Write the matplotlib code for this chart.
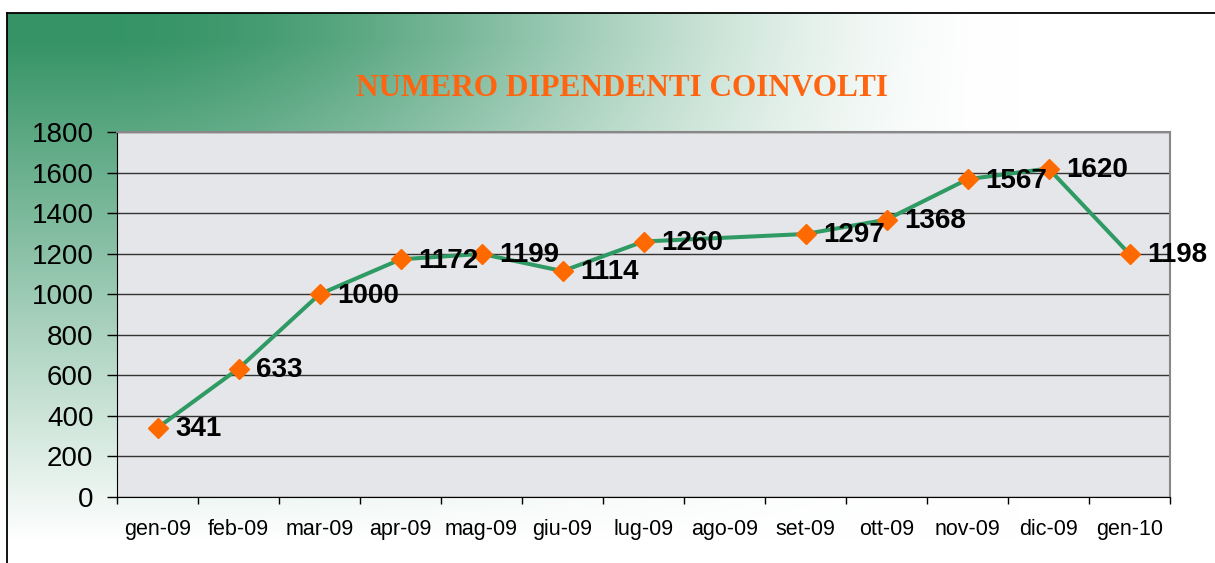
import numpy as np
import matplotlib.pyplot as plt

MONTHS = ["gen-09", "feb-09", "mar-09", "apr-09", "mag-09", "giu-09", "lug-09",
          "ago-09", "set-09", "ott-09", "nov-09", "dic-09", "gen-10"]
DIPENDENTI = [341, 633, 1000, 1172, 1199, 1114, 1260, np.nan,
              1297, 1368, 1567, 1620, 1198]
Y_TICKS = [0, 200, 400, 600, 800, 1000, 1200, 1400, 1600, 1800]
TITLE = "NUMERO DIPENDENTI COINVOLTI"

plt.rcParams["font.family"] = "Liberation Sans"

W, H = 1215, 563
fig = plt.figure(figsize=(W / 100, H / 100), dpi=100)
fig.patch.set_facecolor("white")

# green-to-white slide background inside the frame
fx0, fy0 = 7, 13
bg = fig.add_axes([fx0 / W, 0, 1 - fx0 / W, 1 - fy0 / H])
xx, yy = np.meshgrid(np.arange(W - fx0) + fx0, np.arange(H - fy0) + fy0)
u = np.clip((xx - 100) / 920, 0, 1)
tx = 3 * u ** 2 - 2 * u ** 3
ty = np.clip((yy - 40) / 500, 0, 1)
t = 1 - (1 - tx) * (1 - ty)
green = np.array([0.21, 0.58, 0.40])
img = green[None, None, :] * (1 - t[..., None]) + t[..., None]
bg.imshow(img, aspect="auto", interpolation="bilinear")
bg.set_xticks([])
bg.set_yticks([])
for s in ["right", "bottom"]:
    bg.spines[s].set_visible(False)
bg.spines["left"].set_linewidth(1.3)
bg.spines["top"].set_linewidth(1.3)

fig.text(622 / W, 1 - 88 / H, TITLE, family="Liberation Serif", fontsize=22.5,
         fontweight="bold", color="#ff6410", ha="center", va="center")

ax = fig.add_axes([117 / W, 1 - 497 / H, (1170 - 117) / W, (497 - 132) / H])
ax.set_facecolor("#e5e6e9")

vals = np.array(DIPENDENTI, dtype=float)
xpos = np.arange(len(MONTHS)) + 0.5
ok = ~np.isnan(vals)
ax.plot(xpos[ok], vals[ok], color="#2f9a64", lw=2.9, zorder=3,
        marker="D", ms=10.5, mfc="#ff6a00", mec="#ff6a00")
for x, v in zip(xpos[ok], vals[ok]):
    ax.annotate(f"{int(v)}", (x, v), xytext=(12.5, -1), textcoords="offset points",
                fontsize=20, fontweight="bold", va="center", ha="left", zorder=4)

ax.set_xlim(0, len(MONTHS))
ax.set_ylim(0, 1800)
ax.set_yticks(Y_TICKS)
ax.set_yticklabels([str(v) for v in Y_TICKS], fontsize=20)
ax.set_xticks(np.arange(len(MONTHS) + 1))
ax.set_xticklabels([])
ax.set_xticks(xpos, minor=True)
ax.set_xticklabels(MONTHS, minor=True, fontsize=15.5)
ax.tick_params(axis="x", which="major", length=5, width=1, direction="out")
ax.tick_params(axis="x", which="minor", length=0, pad=16)
ax.tick_params(axis="y", length=7, width=1, pad=10)
ax.grid(axis="y", color="#333333", lw=1)
ax.set_axisbelow(True)
ax.spines["top"].set_color("#888888")
ax.spines["right"].set_color("#888888")
ax.spines["top"].set_linewidth(1.5)
ax.spines["right"].set_linewidth(1.5)

fig.savefig("out.png", dpi=100)
